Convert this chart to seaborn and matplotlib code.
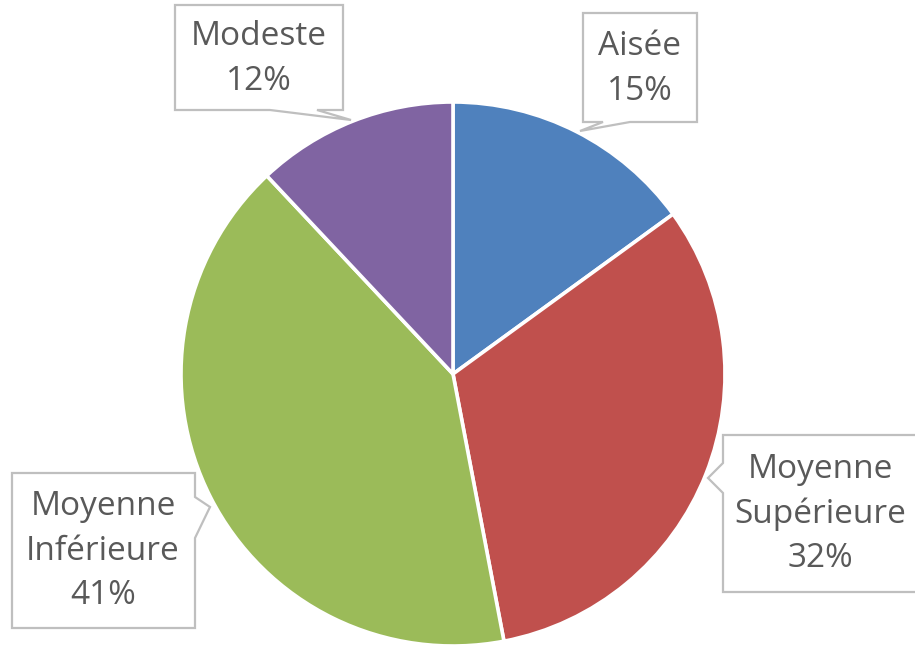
import matplotlib
matplotlib.use("Agg")
import matplotlib.pyplot as plt
import seaborn as sns
from matplotlib.patches import Polygon

# data
categories = ["Aisée", "Moyenne\nSupérieure", "Moyenne\nInférieure", "Modeste"]
shares = [15, 32, 41, 12]
colors = ["#4F81BD", "#C0504D", "#9BBB59", "#8064A2"]

sns.set_theme(style="white")
plt.rcParams["font.family"] = ["Open Sans", "DejaVu Sans"]

W, H = 915, 651

# callout layout in pixel coords (y from top): box, side of pointer, notch span, tip
callouts = [
    dict(box=(583, 13, 697, 122), side="bottom", notch=(603, 630), tip=(580, 131), text=(640, 69)),
    dict(box=(723, 435, 930, 592), side="left", notch=(463, 493), tip=(708, 478), text=(820, 514)),
    dict(box=(12, 473, 195, 628), side="right", notch=(497, 538), tip=(210, 507), text=(103, 551)),
    dict(box=(175, 5, 343, 110), side="bottom", notch=(270, 317), tip=(351, 120), text=(259, 59)),
]


def fy(y):
    return H - y


def callout_points(c):
    x0, y0, x1, y1 = c["box"]
    a, b = c["notch"]
    tx, ty = c["tip"]
    if c["side"] == "bottom":
        pts = [(x0, y0), (x1, y0), (x1, y1), (b, y1), (tx, ty), (a, y1), (x0, y1)]
    elif c["side"] == "left":
        pts = [(x0, y0), (x1, y0), (x1, y1), (x0, y1), (x0, b), (tx, ty), (x0, a)]
    else:
        pts = [(x0, y0), (x1, y0), (x1, a), (tx, ty), (x1, b), (x1, y1), (x0, y1)]
    return [(x, fy(y)) for x, y in pts]


fig = plt.figure(figsize=(W / 100, H / 100), dpi=100)
ax = fig.add_axes([0, 0, 1, 1])
ax.set_xlim(0, W)
ax.set_ylim(0, H)
ax.set_aspect("equal")
ax.axis("off")

ax.pie(shares, colors=colors, startangle=90, counterclock=False,
       center=(453, fy(374)), radius=272,
       wedgeprops=dict(edgecolor="white", linewidth=2.6))

for cat, val, c in zip(categories, shares, callouts):
    ax.add_patch(Polygon(callout_points(c), closed=True, facecolor="white",
                         edgecolor="#BFBFBF", linewidth=1.6, zorder=3))
    ax.text(c["text"][0], fy(c["text"][1]), f"{cat}\n{val}%", ha="center", va="center",
            fontsize=24, color="#595959", linespacing=1.45, zorder=4)

ax.set_xlim(0, W)
ax.set_ylim(0, H)
fig.savefig("out.png", dpi=100)
